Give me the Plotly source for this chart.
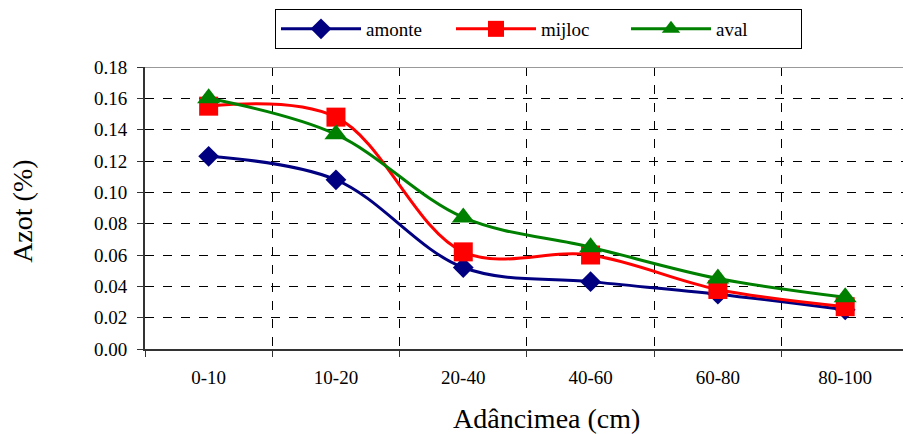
import plotly.graph_objects as go

# Nitrogen content by soil depth at three sampling sites
depths = ["0-10", "10-20", "20-40", "40-60", "60-80", "80-100"]
amonte = [0.123, 0.108, 0.052, 0.043, 0.035, 0.025]
mijloc = [0.155, 0.148, 0.062, 0.060, 0.038, 0.027]
aval = [0.160, 0.137, 0.084, 0.065, 0.045, 0.033]
y_ticks = [0.00, 0.02, 0.04, 0.06, 0.08, 0.10, 0.12, 0.14, 0.16, 0.18]

FONT = "Times New Roman, Liberation Serif, DejaVu Serif, serif"

series = [
    ("amonte", amonte, "#000080", "diamond", 16),
    ("mijloc", mijloc, "#FF0000", "square", 19),
    ("aval", aval, "#008000", "triangle-up", 20),
]

fig = go.Figure()
for name, vals, color, symbol, size in series:
    fig.add_trace(go.Scatter(
        x=depths, y=vals, name=name, mode="lines+markers",
        line=dict(color=color, width=3, shape="spline", smoothing=1.0),
        marker=dict(symbol=symbol, size=size, color=color, line=dict(width=0)),
        cliponaxis=False,
    ))

fig.update_layout(
    width=903, height=434,
    margin=dict(l=145, r=0, t=67, b=85),
    paper_bgcolor="white", plot_bgcolor="white",
    font=dict(family=FONT, color="black", size=17),
    showlegend=True,
    legend=dict(
        orientation="h",
        x=0.1715, xanchor="left",
        y=1.2057, yanchor="top",
        bordercolor="black", borderwidth=1,
        bgcolor="white",
        font=dict(family=FONT, size=19),
        entrywidth=80, entrywidthmode="pixels",
        itemwidth=80,
        traceorder="normal",
    ),
    xaxis=dict(
        type="category",
        range=[-0.5, 5.454],
        tickson="boundaries",
        ticks="outside", ticklen=6, tickcolor="#333333",
        ticklabelstandoff=10,
        showline=True, linecolor="#333333", linewidth=2,
        showgrid=True, gridcolor="black", gridwidth=1, griddash="dash",
        tickfont=dict(family=FONT, size=19),
        zeroline=False,
    ),
    yaxis=dict(
        range=[0, 0.18],
        tickvals=y_ticks,
        tickformat=".2f",
        ticks="outside", ticklen=6, tickcolor="#333333",
        ticklabelstandoff=6,
        showline=True, linecolor="#333333", linewidth=2,
        showgrid=True, gridcolor="black", gridwidth=1, griddash="dash",
        tickfont=dict(family=FONT, size=19),
        zeroline=False,
    ),
    annotations=[
        dict(text="Adâncimea (cm)", xref="paper", yref="paper",
             x=0.530, y=-0.245, xanchor="center", yanchor="middle",
             showarrow=False, font=dict(family=FONT, size=28)),
        dict(text="Azot (%)", xref="paper", yref="paper", textangle=-90,
             x=-0.162, y=0.487, xanchor="center", yanchor="middle",
             showarrow=False, font=dict(family=FONT, size=28)),
    ],
)

# Solid grey border along the top of the plot area
fig.add_shape(type="line", xref="paper", yref="y", x0=0, x1=1, y0=0.18, y1=0.18,
              line=dict(color="#999999", width=2), layer="above")

fig.write_html("out.html")
